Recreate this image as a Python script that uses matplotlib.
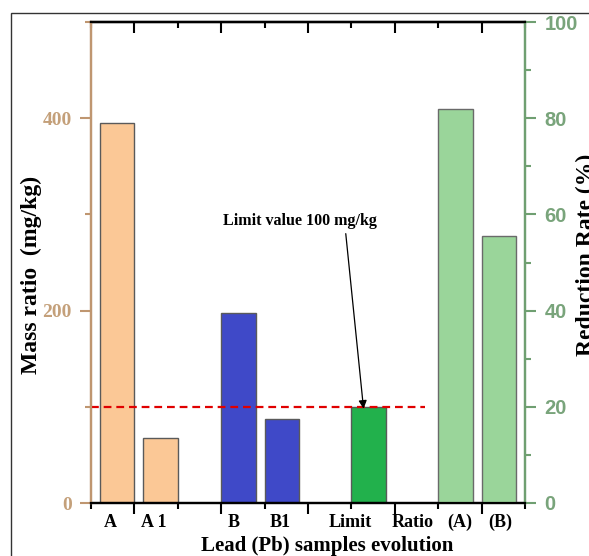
import matplotlib
matplotlib.use("Agg")
import matplotlib.pyplot as plt
from matplotlib.patches import Rectangle
from matplotlib.transforms import blended_transform_factory
import numpy as np

# ---- data ----
mass_labels = ["A", "A1", "B", "B1", "Limit"]
mass_values = [395, 68, 198, 87, 100]
mass_pos = [0.6, 1.6, 3.4, 4.4, 6.4]
mass_colors = ["#FBC896", "#FBC896", "#3F49C8", "#3F49C8", "#22B14C"]

ratio_labels = ["(A)", "(B)"]
ratio_values = [82, 55.5]
ratio_pos = [8.4, 9.4]
ratio_color = "#9AD59A"

tick_text = ["A", "A 1", "B", "B1", "Limit", "Ratio", "(A)", "(B)"]
tick_text_pos = [0.45, 1.44, 3.28, 4.36, 5.97, 7.42, 8.5, 9.42]

limit_value = 100

serif = "Liberation Serif"
sans = "Liberation Sans"
tan = "#BF9670"
tan_txt = "#C4A07A"
green = "#6F9F71"
green_txt = "#79A47B"

fig = plt.figure(figsize=(5.89, 5.56), dpi=100)
ax = fig.add_axes([91/589, 1-503/556, (525-91)/589, (503-22)/556])
ax2 = ax.twinx()

# bars
ax.bar(mass_pos, mass_values, width=0.8, color=mass_colors,
       edgecolor="#5a5a5a", linewidth=1.0, zorder=2)
ax2.bar(ratio_pos, ratio_values, width=0.8, color=ratio_color,
        edgecolor="#6a6a6a", linewidth=1.0, zorder=2)

# limit line
ax.plot([0, 7.7], [limit_value, limit_value], color="#E00000",
        linestyle=(0, (3.5, 2.2)), linewidth=1.6, zorder=3)

# annotation
ax.text(4.82, 293, "Limit value 100 mg/kg", fontsize=11.5, fontweight="bold",
        family=serif, ha="center", va="center", zorder=4)
ax.annotate("", xy=(6.28, limit_value - 2), xytext=(5.87, 280),
            arrowprops=dict(arrowstyle="-|>", color="black", lw=0.9,
                            mutation_scale=12, shrinkA=0, shrinkB=0),
            zorder=4)

ax.set_xlim(0, 10)
ax.set_ylim(0, 500)
ax2.set_ylim(0, 100)

# x ticks
ax.set_xticks([1, 3, 5, 7, 9])
ax.set_xticks([0, 2, 4, 6, 8, 10], minor=True)
ax.set_xticklabels([])
ax.tick_params(axis="x", which="major", direction="out", length=8, width=1.5, color="black")
ax.tick_params(axis="x", which="minor", direction="out", length=4, width=1.5, color="black")
trans = blended_transform_factory(ax.transData, ax.transAxes)
for t, p in zip(tick_text, tick_text_pos):
    ax.text(p, -0.04, t, transform=trans, ha="center", va="center",
            fontsize=13, fontweight="bold", family=serif)

top = ax.secondary_xaxis("top")
top.set_xticks([1, 3, 5, 7, 9])
top.set_xticks([0, 2, 4, 6, 8, 10], minor=True)
top.set_xticklabels([])
top.tick_params(axis="x", which="major", direction="in", length=8, width=1.5, color="black")
top.tick_params(axis="x", which="minor", direction="in", length=4, width=1.5, color="black")
top.spines["top"].set_linewidth(1.6)

# left axis
ax.set_yticks([0, 200, 400])
ax.set_yticks([100, 300, 500], minor=True)
ax.tick_params(axis="y", which="major", direction="out", length=8, width=1.5,
               color=tan, labelcolor=tan_txt, pad=6)
ax.tick_params(axis="y", which="minor", direction="out", length=4, width=1.5, color=tan)
for lab in ax.get_yticklabels():
    lab.set_family(serif)
    lab.set_fontweight("bold")
    lab.set_fontsize(14)

# right axis
ax2.set_yticks([0, 20, 40, 60, 80, 100])
ax2.set_yticks([10, 30, 50, 70, 90], minor=True)
ax2.tick_params(axis="y", which="major", direction="out", length=8, width=1.5,
                color=green, labelcolor=green_txt, pad=6)
ax2.tick_params(axis="y", which="minor", direction="out", length=4, width=1.5, color=green)
for lab in ax2.get_yticklabels():
    lab.set_family(sans)
    lab.set_fontweight("bold")
    lab.set_fontsize(14.5)

for a in (ax, ax2):
    a.spines["left"].set_color(tan)
    a.spines["left"].set_linewidth(1.6)
    a.spines["right"].set_color(green)
    a.spines["right"].set_linewidth(1.6)
    a.spines["bottom"].set_color("black")
    a.spines["bottom"].set_linewidth(1.6)
    a.spines["top"].set_color("black")
    a.spines["top"].set_linewidth(1.6)

# axis labels
fig.text(31/589, 1-275/556, "Mass ratio  (mg/kg)", rotation=90, ha="center", va="center",
         fontsize=17, fontweight="bold", family=serif)
fig.text(586/589, 1-255/556, "Reduction Rate (%)", rotation=90, ha="center", va="center",
         fontsize=17, fontweight="bold", family=serif)
fig.text(327.5/589, 1-546/556, "Lead (Pb) samples evolution", ha="center", va="center",
         fontsize=15, fontweight="bold", family=serif)

# outer frame
fig.add_artist(Rectangle((11/589, -0.2), 1.5, 1.2 - 13/556,
                         transform=fig.transFigure, fill=False,
                         edgecolor="#333333", linewidth=1.0))

fig.savefig("out.png", dpi=100)
